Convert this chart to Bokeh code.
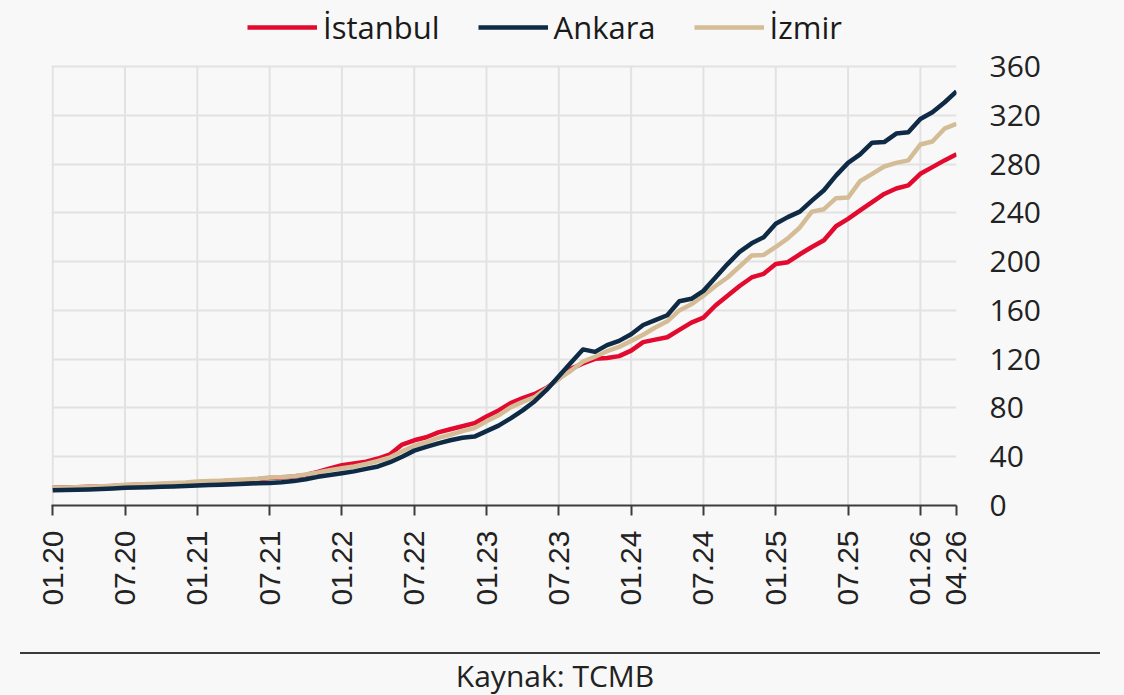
from bokeh.plotting import figure
from bokeh.models import Range1d, FixedTicker, Legend, LegendItem, Div
from bokeh.layouts import column
from bokeh.embed import file_html
from bokeh.resources import INLINE

months = [f"{k % 12 + 1:02d}.{20 + k // 12:02d}" for k in range(76)]

istanbul = [14.5, 14.8, 15.0, 15.3, 15.6, 16.0, 16.6, 17.0, 17.2, 17.5, 17.9, 18.3,
            19.0, 19.4, 19.8, 20.3, 20.8, 21.5, 22.5, 23.0, 23.8, 25.0, 27.5, 30.5,
            33.0, 34.5, 36.0, 38.5, 42.0, 50.0, 53.5, 56.0, 60.0, 62.5, 65.0, 67.5,
            73.0, 78.0, 84.0, 88.0, 91.5, 96.5, 104.0, 112.0, 116.5, 120.3, 121.0, 122.5,
            127.0, 134.0, 136.0, 138.0, 144.0, 150.0, 154.0, 164.0, 172.0, 180.0, 187.0, 190.0,
            198.0, 199.5, 206.0, 212.0, 217.5, 229.0, 235.0, 242.0, 248.7, 255.5, 260.0, 262.5,
            272.0, 277.5, 283.0, 288.0]

ankara = [12.5, 12.7, 13.0, 13.2, 13.6, 14.0, 14.5, 14.8, 15.0, 15.3, 15.6, 16.0,
          16.5, 16.8, 17.0, 17.4, 17.8, 18.2, 18.5, 19.0, 20.0, 21.5, 23.5, 25.0,
          26.5, 28.0, 30.0, 32.0, 35.5, 40.0, 45.0, 48.0, 51.0, 53.5, 55.5, 56.5,
          61.0, 65.5, 71.5, 78.0, 85.5, 95.0, 106.0, 117.0, 128.0, 126.0, 131.5, 135.0,
          140.5, 148.0, 152.0, 156.0, 167.5, 169.5, 176.0, 187.0, 198.0, 208.0, 215.0, 220.0,
          231.0, 236.5, 241.0, 250.0, 258.5, 270.5, 281.0, 288.0, 297.5, 298.0, 305.0, 306.0,
          317.0, 322.5, 330.5, 339.5]

izmir = [14.5, 14.8, 15.0, 15.4, 15.8, 16.2, 17.0, 17.3, 17.6, 18.0, 18.4, 18.8,
         19.6, 20.0, 20.4, 20.9, 21.4, 22.0, 23.0, 23.3, 24.0, 25.5, 27.0, 29.0,
         30.5, 32.0, 34.0, 36.5, 39.5, 44.5, 49.0, 52.0, 55.5, 58.0, 61.0, 63.5,
         69.0, 74.0, 80.5, 85.0, 89.0, 96.0, 104.0, 110.5, 118.0, 122.0, 126.5, 130.0,
         135.0, 140.0, 146.0, 151.0, 160.0, 165.0, 172.0, 180.0, 187.0, 196.0, 205.0, 205.5,
         212.0, 219.0, 228.0, 241.0, 243.0, 252.0, 252.5, 266.0, 272.0, 278.0, 281.0, 283.0,
         296.0, 298.5, 309.0, 313.0]

tick_labels = ["01.20", "07.20", "01.21", "07.21", "01.22", "07.22", "01.23",
               "07.23", "01.24", "07.24", "01.25", "07.25", "01.26", "04.26"]
grid_labels = tick_labels[:-1]
y_ticks = [0, 40, 80, 120, 160, 200, 240, 280, 320, 360]

x = list(range(len(months)))
tick_pos = [months.index(t) for t in tick_labels]
grid_pos = [months.index(t) for t in grid_labels]

BG = "#f8f8f8"
GRID = "#e2e2e2"
RED = "#e30a2f"
NAVY = "#0f2a45"
TAN = "#d4bd96"

# frame reaches up to the top of the canvas so the legend (drawn inside the
# frame) is not clipped; the 0-360 scale keeps its place on the page
Y_TOP = y_ticks[-1] * 505 / 439

p = figure(width=1124, height=628, x_range=Range1d(-0.1, len(months) - 1),
           y_range=Range1d(0, Y_TOP), output_backend="svg", toolbar_location=None,
           y_axis_location="right", min_border_left=51, min_border_right=168,
           min_border_top=0, min_border_bottom=123,
           background_fill_color=BG, border_fill_color=BG, outline_line_color=None)

# vertical grid lines limited to the 0-360 band
p.segment(x0=grid_pos, y0=[y_ticks[0]] * len(grid_pos), x1=grid_pos,
          y1=[y_ticks[-1]] * len(grid_pos), line_color=GRID, line_width=2)

r_ist = p.line(x, istanbul, line_color=RED, line_width=4.5, line_join="round")
r_izm = p.line(x, izmir, line_color=TAN, line_width=4.5, line_join="round")
r_ank = p.line(x, ankara, line_color=NAVY, line_width=4.5, line_join="round")

# x axis
xa = p.xaxis[0]
xa.ticker = FixedTicker(ticks=tick_pos)
xa.major_label_overrides = {pos: lab for pos, lab in zip(tick_pos, tick_labels)}
xa.major_label_orientation = 1.5707963
xa.major_label_text_font = "Liberation Sans"
xa.major_label_text_font_size = "30px"
xa.major_label_text_color = "#222222"
xa.major_label_standoff = 15
xa.axis_line_color = "#3c3c3c"
xa.axis_line_width = 2
xa.major_tick_line_color = "#3c3c3c"
xa.major_tick_line_width = 2
xa.major_tick_out = 10
xa.major_tick_in = 0
xa.minor_tick_line_color = None

# y axis (right)
ya = p.yaxis[0]
ya.ticker = FixedTicker(ticks=y_ticks)
ya.major_label_text_font = "Open Sans"
ya.major_label_text_font_size = "30px"
ya.major_label_text_color = "#222222"
ya.major_label_standoff = 33
ya.axis_line_color = None
ya.major_tick_line_color = None
ya.minor_tick_line_color = None
ya.major_tick_out = 0
ya.major_tick_in = 0

p.xgrid.grid_line_color = None
p.ygrid.ticker = FixedTicker(ticks=y_ticks[1:])
p.ygrid.grid_line_color = GRID
p.ygrid.grid_line_width = 2

legend = Legend(items=[LegendItem(label="İstanbul", renderers=[r_ist]),
                       LegendItem(label="Ankara", renderers=[r_ank]),
                       LegendItem(label="İzmir", renderers=[r_izm])],
                orientation="horizontal", location=(196, 457),
                label_text_font="Open Sans", label_text_font_size="31px",
                label_text_color="#1a1a1a", glyph_width=70, glyph_height=30,
                label_height=30, label_standoff=6, spacing=38, padding=0, margin=0,
                background_fill_alpha=0, border_line_color=None)
p.add_layout(legend)

source = Div(text=('<div style="margin:19px 0 0 15px;width:1080px;padding-right:10px;'
                   'border-top:2px solid #3a3a3a;padding-top:6px;text-align:center;'
                   'font-family:\'Open Sans\';font-size:30px;line-height:32px;'
                   'color:#222222;">Kaynak: TCMB</div>'),
             width=1124, height=58, styles={"background-color": BG})

layout = column(p, source, spacing=0, styles={"background-color": BG})

open("out.html", "w").write(file_html(layout, INLINE))
